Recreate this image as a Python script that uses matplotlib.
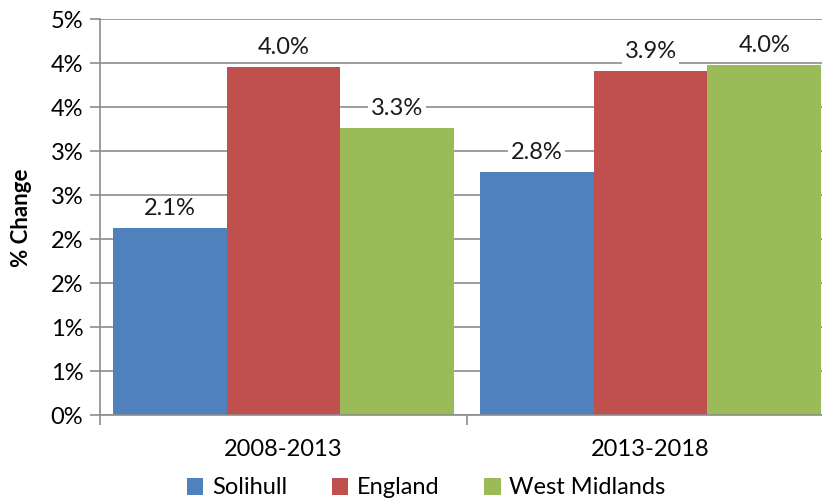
import matplotlib.pyplot as plt
import numpy as np

periods = ["2008-2013", "2013-2018"]
areas = ["Solihull", "England", "West Midlands"]
solihull = [2.12, 2.76]
england = [3.96, 3.91]
west_midlands = [3.26, 3.98]
y_ticks = [0, 0.5, 1.0, 1.5, 2.0, 2.5, 3.0, 3.5, 4.0, 4.5]
y_tick_labels = ["0%", "1%", "1%", "2%", "2%", "3%", "3%", "4%", "4%", "5%"]

colors = ["#4F81BD", "#C0504D", "#9BBB59"]
plt.rcParams['font.family'] = ['Lato', 'DejaVu Sans']

fig = plt.figure(figsize=(8.22, 5.01), dpi=100)
# axes runs a bit past the right edge, like the original
ax = fig.add_axes([100 / 822, 86 / 501, 734 / 822, 396 / 501])

x = np.arange(len(periods))
width = 0.31
series = [solihull, england, west_midlands]
for i in range(len(series)):
    bars = ax.bar(x + (i - 1) * width, series[i], width, color=colors[i],
                  label=areas[i], zorder=2)
    for b, v in zip(bars, series[i]):
        ax.annotate("%.1f%%" % v, (b.get_x() + b.get_width() / 2, v),
                    xytext=(0, 14), textcoords="offset points",
                    ha="center", va="center", fontsize=17, color="#1a1a1a",
                    bbox=dict(facecolor="white", edgecolor="none", pad=2),
                    zorder=3)

ax.set_xlim(-0.5, 1.5)
ax.set_ylim(0, 4.5)
ax.set_yticks(y_ticks)
ax.set_yticklabels(y_tick_labels, fontsize=17)
ax.yaxis.grid(True, color="#8c8c8c", linewidth=1.2, zorder=0)
ax.set_axisbelow(True)

# category separators on the x axis
ax.set_xticks([-0.5, 0.5, 1.5])
ax.set_xticklabels([])
ax.set_xticks(x, minor=True)
ax.set_xticklabels(periods, minor=True, fontsize=17)
ax.tick_params(axis="x", which="minor", length=0, pad=17)
ax.tick_params(axis="x", which="major", length=7, color="#8c8c8c", width=1.2)
ax.tick_params(axis="y", length=7, color="#8c8c8c", width=1.2, pad=5)

for s in ["top", "right"]:
    ax.spines[s].set_visible(False)
for s in ["left", "bottom"]:
    ax.spines[s].set_color("#8c8c8c")
    ax.spines[s].set_linewidth(1.2)

fig.text(22 / 822, 1 - 218 / 501, "% Change", rotation=90, ha="center",
         va="center", fontsize=16, fontweight="bold")

fig.legend(*ax.get_legend_handles_labels(), loc="center",
           bbox_to_anchor=(426 / 822, 1 - 488 / 501),
           ncol=3, frameon=False, fontsize=17, handlelength=0.7,
           handleheight=0.7, handletextpad=0.35, columnspacing=1.9,
           borderaxespad=0)

fig.savefig("out.png", dpi=100)
